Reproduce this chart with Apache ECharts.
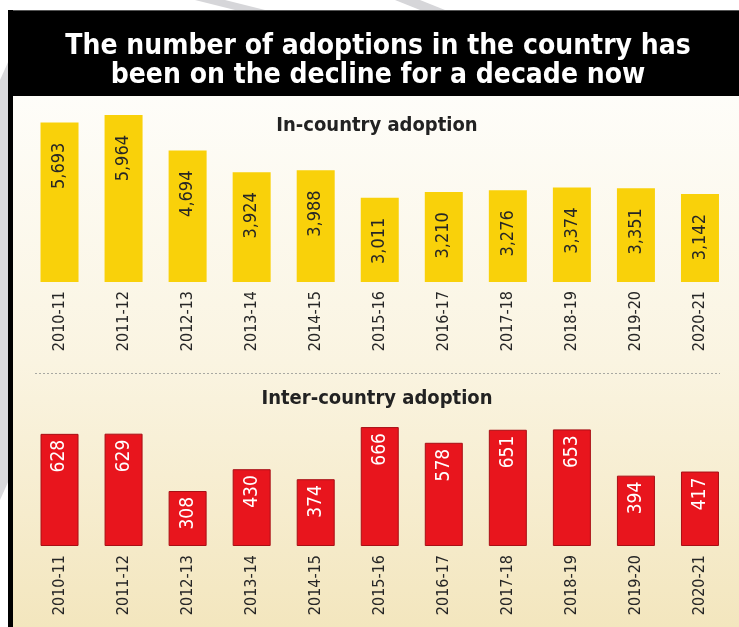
<!DOCTYPE html>
<html>
<head>
<meta charset="utf-8">
<script src="https://cdn.jsdelivr.net/npm/echarts@6/dist/echarts.min.js"></script>
<style>
html,body{margin:0;padding:0;background:#fff;}
#chart{width:739px;height:627px;}
</style>
</head>
<body>
<div id="chart"></div>
<script>
var categories = ['2010-11','2011-12','2012-13','2013-14','2014-15','2015-16','2016-17','2017-18','2018-19','2019-20','2020-21'];
var inCountry = [5693, 5964, 4694, 3924, 3988, 3011, 3210, 3276, 3374, 3351, 3142];
var interCountry = [628, 629, 308, 430, 374, 666, 578, 651, 653, 394, 417];
var titleLines = ['The number of adoptions in the country has', 'been on the decline for a decade now'];
var subtitleTop = 'In-country adoption';
var subtitleBottom = 'Inter-country adoption';

var FONT = '"DejaVu Sans Condensed", "DejaVu Sans", sans-serif';
var chart = echarts.init(document.getElementById('chart'), null, {renderer: 'canvas'});

function fmt(v) { return v.toLocaleString('en-US'); }

var option = {
  animation: false,
  backgroundColor: '#ffffff',
  graphic: [
    // faint watermark strokes in outer margin
    {type: 'polygon', z: -10, shape: {points: [[0,80],[9,60],[9,480],[0,500]]}, style: {fill: '#d9d9dc'}},
    {type: 'polygon', z: -10, shape: {points: [[195,0],[225,0],[265,10],[235,10]]}, style: {fill: '#d6d6d9'}},
    {type: 'polygon', z: -10, shape: {points: [[395,0],[420,0],[445,10],[420,10]]}, style: {fill: '#d6d6d9'}},
    // panel background
    {type: 'rect', z: -5, shape: {x: 13, y: 96, width: 726, height: 531},
      style: {fill: new echarts.graphic.LinearGradient(0, 0, 0, 1, [
        {offset: 0, color: '#fefdf9'}, {offset: 0.5, color: '#faf4e1'}, {offset: 1, color: '#f3e6be'}])}},
    // header
    {type: 'rect', z: -4, shape: {x: 8, y: 10, width: 731, height: 86}, style: {fill: '#000'}},
    {type: 'rect', z: -4, shape: {x: 8, y: 10, width: 731, height: 1}, style: {fill: '#555'}},
    {type: 'rect', z: -4, shape: {x: 8, y: 10, width: 5, height: 617}, style: {fill: '#000'}},
    {type: 'text', x: 378, y: 47, style: {text: titleLines[0], fill: '#fff', font: 'bold 28px ' + FONT, textAlign: 'center', textVerticalAlign: 'middle'}},
    {type: 'text', x: 378, y: 76, style: {text: titleLines[1], fill: '#fff', font: 'bold 28px ' + FONT, textAlign: 'center', textVerticalAlign: 'middle'}},
    {type: 'text', x: 377, y: 126, style: {text: subtitleTop, fill: '#222', font: 'bold 20px ' + FONT, textAlign: 'center', textVerticalAlign: 'middle'}},
    {type: 'text', x: 377, y: 399, style: {text: subtitleBottom, fill: '#222', font: 'bold 20px ' + FONT, textAlign: 'center', textVerticalAlign: 'middle'}},
    {type: 'line', shape: {x1: 35, y1: 373.5, x2: 720, y2: 373.5}, style: {stroke: '#a8a8a2', lineWidth: 1, lineDash: [2, 2]}}
  ],
  grid: [
    {left: 27.5, right: 7, top: 114, height: 168, containLabel: false},
    {left: 27.5, right: 7, top: 421, height: 125, containLabel: false}
  ],
  xAxis: [
    {type: 'category', gridIndex: 0, data: categories,
      axisLine: {show: false}, axisTick: {show: false},
      axisLabel: {rotate: 90, margin: 9, color: '#262626', fontSize: 16, fontFamily: FONT, interval: 0}},
    {type: 'category', gridIndex: 1, data: categories,
      axisLine: {show: false}, axisTick: {show: false},
      axisLabel: {rotate: 90, margin: 9, color: '#262626', fontSize: 16, fontFamily: FONT, interval: 0}}
  ],
  yAxis: [
    {type: 'value', gridIndex: 0, min: 0, max: 6000, show: false, splitLine: {show: false}},
    {type: 'value', gridIndex: 1, min: 0, max: 700, show: false, splitLine: {show: false}}
  ],
  series: [
    {type: 'bar', xAxisIndex: 0, yAxisIndex: 0, data: inCountry, barWidth: 38,
      itemStyle: {color: '#f9d10a'},
      label: {show: true, position: 'insideTop', rotate: 90, align: 'right', verticalAlign: 'middle', distance: 20,
        formatter: function (p) { return fmt(p.value); }, color: '#262626', fontSize: 18, fontFamily: FONT}},
    {type: 'bar', xAxisIndex: 1, yAxisIndex: 1, data: interCountry, barWidth: 38,
      itemStyle: {color: '#e8151d', borderColor: '#a80f15', borderWidth: 1},
      label: {show: true, position: 'insideTop', rotate: 90, align: 'right', verticalAlign: 'middle', distance: 6,
        formatter: function (p) { return fmt(p.value); }, color: '#ffffff', fontSize: 19, fontFamily: FONT}}
  ]
};
chart.setOption(option);
</script>
</body>
</html>
